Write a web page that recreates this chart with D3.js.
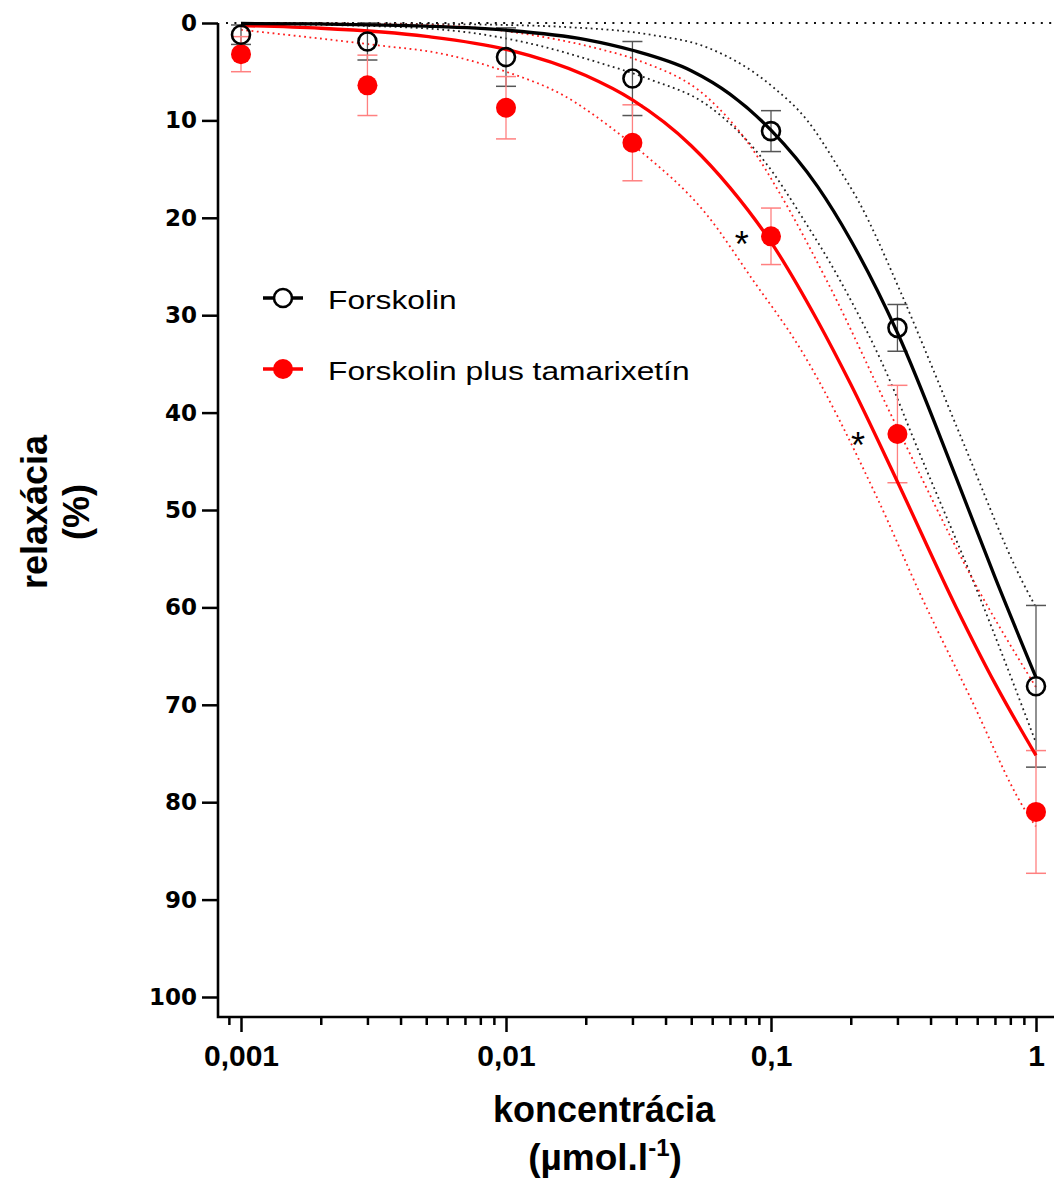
<!DOCTYPE html>
<html>
<head>
<meta charset="utf-8">
<script src="https://cdnjs.cloudflare.com/ajax/libs/d3/7.8.5/d3.min.js"></script>
<style>
  body { margin: 0; background: #fff; }
</style>
</head>
<body>
<div id="chart"></div>
<script>
'use strict';

// concentration (umol/l) and mean relaxation (%) +- SEM
var conc = [0.001, 0.003, 0.01, 0.03, 0.1, 0.3, 1];
var forskolin = [1.2, 1.9, 3.5, 5.7, 11.1, 31.3, 68.1];
var forskolinErr = [1.0, 1.9, 3.0, 3.8, 2.1, 2.4, 8.3];
var tamarix = [3.2, 6.4, 8.7, 12.3, 21.9, 42.2, 81.0];
var tamarixErr = [1.8, 3.1, 3.2, 3.9, 2.9, 5.0, 6.3];

var seriesNames = ['Forskolin', 'Forskolin plus tamarixetín'];

// fitted curves as [conc, %]
var forskolinFit = [[0.001, 0.05], [0.002, 0.1], [0.005, 0.32], [0.01, 0.74], [0.02, 1.7],
  [0.03, 2.8], [0.05, 4.9], [0.07, 7.3], [0.1, 11.0], [0.15, 16.8], [0.2, 22.3],
  [0.3, 31.8], [0.5, 46.7], [0.7, 56.9], [1, 67.2]];
var tamarixFit = [[0.001, 0.27], [0.002, 0.54], [0.005, 1.37], [0.01, 2.7], [0.02, 5.4],
  [0.03, 7.9], [0.05, 12.6], [0.07, 16.9], [0.1, 22.5], [0.15, 30.6], [0.2, 37.1],
  [0.3, 47.1], [0.5, 60.0], [0.7, 67.8], [1, 75.2]];

// 95% bands (dotted)
var forskolinBandLo = [[0.001, 0], [0.005, 0.1], [0.01, 0.2], [0.0164, 0.4], [0.035, 1.2],
  [0.0573, 2.5], [0.102, 6.6], [0.137, 10.0], [0.182, 15.1], [0.213, 18.2], [0.307, 27.5],
  [0.408, 35.5], [0.53, 43.0], [0.894, 57.5], [1, 60.0]];
var forskolinBandHi = [[0.001, 0.1], [0.003, 0.3], [0.0069, 0.9], [0.0123, 2.1], [0.022, 4.0],
  [0.035, 5.8], [0.0573, 8.4], [0.102, 15.4], [0.128, 19.5], [0.182, 26.4], [0.288, 37.4],
  [0.337, 42.0], [0.6, 58.3], [1, 73.9]];
var tamarixBandLo = [[0.001, 0.0], [0.005, 0.2], [0.0143, 1.5], [0.022, 2.6], [0.032, 3.9],
  [0.0573, 7.6], [0.0834, 12.6], [0.108, 17.5], [0.162, 26.4], [0.299, 41.5], [0.598, 57.9],
  [1, 68.2]];
var tamarixBandHi = [[0.001, 0.7], [0.0033, 2.3], [0.0056, 3.1], [0.01, 5.0], [0.0164, 7.4],
  [0.0262, 11.2], [0.032, 13.1], [0.0573, 19.7], [0.0855, 26.4], [0.128, 33.3], [0.251, 48.7],
  [0.371, 59.0], [0.564, 69.2], [0.909, 80.8], [1, 82.5]];

// significance marks
var stars = [[0.0775, 22.0], [0.213, 42.6]];

var yTicks = [0, 10, 20, 30, 40, 50, 60, 70, 80, 90, 100];
var xMajor = [0.001, 0.01, 0.1, 1];
var xTickLabels = ['0,001', '0,01', '0,1', '1'];

var width = 1054, height = 1182;
var margin = {top: 23, left: 218};
var plotW = 836, plotH = 994;

var svg = d3.select('#chart')
  .append('svg')
  .attr('width', width)
  .attr('height', height)
  .style('background', '#fff');

var g = svg.append('g')
  .attr('transform', 'translate(' + margin.left + ',' + margin.top + ')');

// log x: 0.001 sits 23px in, one decade is 265px
var x = d3.scaleLog()
  .domain([Math.pow(10, -3 - 23 / 265), Math.pow(10, (plotW - 23) / 265 - 3)])
  .range([0, plotW]);
var y = d3.scaleLinear()
  .domain([0, 100])
  .range([0, 974]);

var black = '#000';
var red = '#ff0000';

// zero line
g.append('line')
  .attr('x1', 8).attr('x2', plotW)
  .attr('y1', y(0)).attr('y2', y(0))
  .attr('stroke', '#111')
  .attr('stroke-width', 2)
  .attr('stroke-dasharray', '2,6.4');

var line = d3.line()
  .x(function(d) { return x(d[0]); })
  .y(function(d) { return y(d[1]); })
  .curve(d3.curveMonotoneX);

// dotted bands
[[forskolinBandLo, '#222'], [forskolinBandHi, '#222'],
 [tamarixBandLo, '#ff2020'], [tamarixBandHi, '#ff2020']].forEach(function(b) {
  g.append('path')
    .attr('d', line(b[0]))
    .attr('fill', 'none')
    .attr('stroke', b[1])
    .attr('stroke-width', 1.8)
    .attr('stroke-dasharray', '1.8,3.5');
});

// error bars
function errorBars(vals, errs, color) {
  var eg = g.append('g');
  conc.forEach(function(c, i) {
    var cx = x(c);
    var y1 = y(vals[i] - errs[i]), y2 = y(vals[i] + errs[i]);
    eg.append('line').attr('x1', cx).attr('x2', cx).attr('y1', y1).attr('y2', y2)
      .attr('stroke', color).attr('stroke-width', 1.3);
    [y1, y2].forEach(function(yy) {
      eg.append('line').attr('x1', cx - 10).attr('x2', cx + 10).attr('y1', yy).attr('y2', yy)
        .attr('stroke', color).attr('stroke-width', 1.5);
    });
  });
}
errorBars(forskolin, forskolinErr, '#555');
errorBars(tamarix, tamarixErr, '#ff8080');

// fitted curves
g.append('path')
  .attr('d', line(tamarixFit))
  .attr('fill', 'none')
  .attr('stroke', red)
  .attr('stroke-width', 3.3);
g.append('path')
  .attr('d', line(forskolinFit))
  .attr('fill', 'none')
  .attr('stroke', black)
  .attr('stroke-width', 3.3);

// points
g.selectAll('.pt-t')
  .data(tamarix)
  .enter()
  .append('circle')
  .attr('cx', function(d, i) { return x(conc[i]); })
  .attr('cy', function(d) { return y(d); })
  .attr('r', 10)
  .attr('fill', red);
g.selectAll('.pt-f')
  .data(forskolin)
  .enter()
  .append('circle')
  .attr('cx', function(d, i) { return x(conc[i]); })
  .attr('cy', function(d) { return y(d); })
  .attr('r', 9)
  .attr('fill', 'none')
  .attr('stroke', black)
  .attr('stroke-width', 2.6);

// asterisks
g.selectAll('.star')
  .data(stars)
  .enter()
  .append('text')
  .attr('x', function(d) { return x(d[0]); })
  .attr('y', function(d) { return y(d[1]) + 20; })
  .attr('text-anchor', 'middle')
  .style('font-family', '"Liberation Sans", Arial, sans-serif')
  .style('font-size', '36px')
  .style('fill', '#000')
  .text('*');

// y axis
var yAxis = g.append('g')
  .call(d3.axisLeft(y).tickValues(yTicks).tickSize(16).tickPadding(5));
yAxis.select('.domain').remove();
yAxis.selectAll('.tick line').attr('stroke', '#000').attr('stroke-width', 2.5);
yAxis.selectAll('.tick text')
  .style('font-family', '"DejaVu Sans", sans-serif')
  .style('font-weight', 'bold')
  .style('font-size', '23px')
  .attr('dy', '0.33em')
  .attr('fill', '#000');

// x axis: minor ticks then major ticks with labels
var xMinor = [];
[0.0001, 0.001, 0.01, 0.1].forEach(function(dec) {
  for (var k = 2; k <= 9; k++) {
    var v = dec * k;
    if (v >= 0.0009 && v < 1) xMinor.push(v);
  }
});
var xAxisMinor = g.append('g')
  .attr('transform', 'translate(0,' + plotH + ')')
  .call(d3.axisBottom(x).tickValues(xMinor).tickSize(8).tickFormat(''));
xAxisMinor.select('.domain').remove();
xAxisMinor.selectAll('.tick line').attr('stroke', '#000').attr('stroke-width', 2.5);

var xAxisMajor = g.append('g')
  .attr('transform', 'translate(0,' + plotH + ')')
  .call(d3.axisBottom(x).tickValues(xMajor).tickSize(15).tickPadding(13)
    .tickFormat(function(d, i) { return xTickLabels[i]; }));
xAxisMajor.select('.domain').remove();
xAxisMajor.selectAll('.tick line').attr('stroke', '#000').attr('stroke-width', 2.5);
xAxisMajor.selectAll('.tick text')
  .style('font-family', '"Liberation Sans", Arial, sans-serif')
  .style('font-weight', 'bold')
  .style('font-size', '30px')
  .attr('fill', '#000');

// axis lines (L shape)
g.append('path')
  .attr('d', 'M0,' + y(0) + 'V' + plotH + 'H' + plotW)
  .attr('fill', 'none')
  .attr('stroke', '#000')
  .attr('stroke-width', 2.6);

// axis titles
var titleFont = '"Liberation Sans", Arial, sans-serif';
svg.append('text')
  .attr('x', 604)
  .attr('y', 1122)
  .attr('text-anchor', 'middle')
  .style('font-family', titleFont)
  .style('font-weight', 'bold')
  .style('font-size', '36px')
  .text('koncentrácia');
var xt2 = svg.append('text')
  .attr('x', 605)
  .attr('y', 1170)
  .attr('text-anchor', 'middle')
  .style('font-family', titleFont)
  .style('font-weight', 'bold')
  .style('font-size', '37px');
xt2.append('tspan').text('(µmol.l');
xt2.append('tspan').attr('dy', -14).style('font-size', '24px').text('-1');
xt2.append('tspan').attr('dy', 14).text(')');

var yt = svg.append('text')
  .attr('transform', 'translate(0,' + 512 + ') rotate(-90)')
  .attr('text-anchor', 'middle')
  .style('font-family', titleFont)
  .style('font-weight', 'bold')
  .style('font-size', '36px');
yt.append('tspan').attr('x', 0).attr('y', 47).text('relaxácia');
yt.append('tspan').attr('x', 0).attr('y', 89).text('(%)');

// legend
var legend = svg.selectAll('.legend')
  .data(seriesNames)
  .enter()
  .append('g')
  .attr('class', 'legend')
  .attr('transform', function(d, i) { return 'translate(263,' + (298 + i * 71) + ')'; });
legend.append('line')
  .attr('x1', 0).attr('x2', 40)
  .attr('stroke', function(d, i) { return i ? red : black; })
  .attr('stroke-width', 3.3);
legend.append('circle')
  .attr('cx', 20)
  .attr('r', function(d, i) { return i ? 10 : 9; })
  .attr('fill', function(d, i) { return i ? red : '#fff'; })
  .attr('stroke', function(d, i) { return i ? 'none' : black; })
  .attr('stroke-width', 2.6);
legend.append('text')
  .attr('transform', 'translate(65,11) scale(1.27,1)')
  .style('font-family', '"Liberation Sans", Arial, sans-serif')
  .style('font-size', '25px')
  .style('fill', '#000')
  .text(function(d) { return d; });
</script>
</body>
</html>
